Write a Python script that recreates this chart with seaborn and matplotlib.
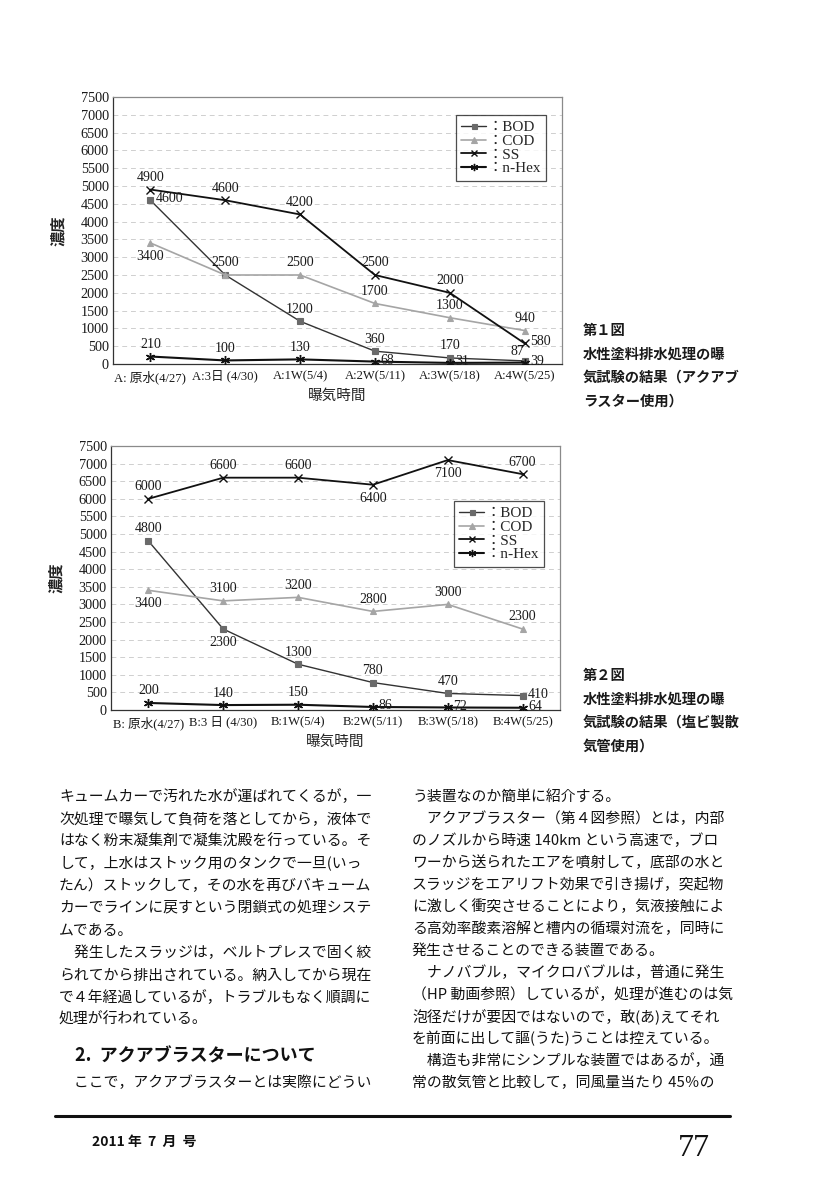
import numpy as np
import pandas as pd
import seaborn as sns
import matplotlib.pyplot as plt

sns.set_theme(style="white")
plt.rcParams['font.family'] = ['Liberation Serif', 'Noto Sans CJK JP', 'DejaVu Sans']
JP = ['Noto Sans CJK JP', 'DejaVu Sans']

# ---- data ----
series = ["BOD", "COD", "SS", "n-Hex"]
cats_a = ["A: 原水(4/27)", "A:3日 (4/30)", "A:1W(5/4)", "A:2W(5/11)", "A:3W(5/18)", "A:4W(5/25)"]
cats_b = ["B: 原水(4/27)", "B:3 日 (4/30)", "B:1W(5/4)", "B:2W(5/11)", "B:3W(5/18)", "B:4W(5/25)"]

a_bod = [4600, 2500, 1200, 360, 170, 87]
a_cod = [3400, 2500, 2500, 1700, 1300, 940]
a_ss = [4900, 4600, 4200, 2500, 2000, 580]
a_hex = [210, 100, 130, 68, 31, 39]

b_bod = [4800, 2300, 1300, 780, 470, 410]
b_cod = [3400, 3100, 3200, 2800, 3000, 2300]
b_ss = [6000, 6600, 6600, 6400, 7100, 6700]
b_hex = [200, 140, 150, 86, 72, 64]

yticks = list(range(0, 7501, 500))

# label placement: a=above, al=above-left, b=below, r=right, None=hidden
place_a = {("BOD", 0): "r", ("BOD", 1): None, ("BOD", 5): "al", ("COD", 0): "b", ("SS", 5): "r",
           ("n-Hex", 3): "r", ("n-Hex", 4): "r", ("n-Hex", 5): "r"}
place_b = {("SS", 3): "b", ("SS", 4): "b", ("BOD", 1): "b", ("BOD", 5): "r",
           ("COD", 0): "b", ("n-Hex", 3): "r", ("n-Hex", 4): "r", ("n-Hex", 5): "r"}
offsets = {"a": ((0, 4), "center", "bottom"), "al": ((-5, 2), "center", "bottom"),
           "b": ((0, -5), "center", "top"), "r": ((4, 1), "left", "center")}

styles = {
    "BOD": dict(color="#333333", lw=1.0, marker="s", ms=4.5, mfc="#6a6a6a", mec="#6a6a6a"),
    "COD": dict(color="#a5a5a5", lw=1.2, marker="^", ms=5, mfc="#a5a5a5", mec="#a5a5a5"),
    "SS": dict(color="#111111", lw=1.3, marker="x", ms=5.5, mfc="none", mec="#111111", mew=1.0),
    "n-Hex": dict(color="#111111", lw=1.5, marker=(6, 2, 0), ms=6.5, mfc="none", mec="#111111", mew=1.0),
}


def draw_chart(ax, cats, values, place, legend_y):
    x = np.arange(len(cats))
    for ax_y in yticks[1:]:
        ax.axhline(ax_y, color="#cfcfcf", lw=0.7, ls=(0, (5, 4)), zorder=0)
    for name, vals in zip(series, values):
        df = pd.DataFrame({"x": x, "y": vals})
        st = styles[name]
        sns.lineplot(data=df, x="x", y="y", ax=ax, color=st["color"], lw=st["lw"],
                     marker=st["marker"], markersize=st["ms"], markerfacecolor=st["mfc"],
                     markeredgecolor=st["mec"], markeredgewidth=st.get("mew", 0.8),
                     label="：" + name, zorder=3)
        for i, v in enumerate(vals):
            p = place.get((name, i), "a")
            if p is None:
                continue
            off, ha, va = offsets[p]
            ax.annotate(str(v), (i, v), xytext=off, textcoords="offset points",
                        ha=ha, va=va, fontsize=10, color="#1a1a1a", zorder=4)
    ax.set_xlim(-0.5, len(cats) - 0.5)
    ax.set_ylim(0, 7500)
    ax.set_xticks(x)
    ax.set_xticklabels(cats, fontsize=9.1)
    ax.set_yticks(yticks)
    ax.set_yticklabels([str(t) for t in yticks], fontsize=10.3)
    ax.tick_params(axis="x", length=0, pad=4.5, colors="#1a1a1a")
    ax.tick_params(axis="y", length=0, pad=3, colors="#1a1a1a")
    ax.set_xlabel("曝気時間", fontsize=10.5, family=JP, color="#222")
    ax.set_ylabel("濃度", fontsize=11, family=JP, color="#222", fontweight="bold")
    ax.xaxis.set_label_coords(0.5, -0.095)
    ax.yaxis.set_label_coords(-0.105, 0.5)
    for s in ["left", "bottom"]:
        ax.spines[s].set_color("#333333")
        ax.spines[s].set_linewidth(0.9)
    for s in ["top", "right"]:
        ax.spines[s].set_color("#8a8a8a")
        ax.spines[s].set_linewidth(0.9)
    leg = ax.legend(loc="upper right", bbox_to_anchor=(0.982, legend_y), fontsize=11,
                    frameon=True, fancybox=False, edgecolor="#222222", handlelength=1.6,
                    handletextpad=0.1, labelspacing=0.0, borderpad=0.35, markerscale=0.8)
    leg.get_frame().set_linewidth(0.9)


fig = plt.figure(figsize=(8.25, 12), dpi=100)
fig.patch.set_facecolor("white")

ax1 = fig.add_axes([113 / 825, 1 - 364 / 1200, 449 / 825, 267 / 1200])
draw_chart(ax1, cats_a, [a_bod, a_cod, a_ss, a_hex], place_a, 0.96)

ax2 = fig.add_axes([111 / 825, 1 - 710 / 1200, 449 / 825, 264 / 1200])
draw_chart(ax2, cats_b, [b_bod, b_cod, b_ss, b_hex], place_b, 0.82)

# ---- captions ----
cap1 = ["第１図", "水性塗料排水処理の曝", "気試験の結果（アクアブ", "ラスター使用）"]
cap2 = ["第２図", "水性塗料排水処理の曝", "気試験の結果（塩ビ製散", "気管使用）"]
for lines, y0 in [(cap1, 331), (cap2, 676)]:
    for k, t in enumerate(lines):
        fig.text(583 / 825, 1 - (y0 + k * 23.5) / 1200, t, fontsize=10.3, family=JP,
                 fontweight="bold", va="center", ha="left", color="#1a1a1a")

# ---- body text ----
left_col = [
    "キュームカーで汚れた水が運ばれてくるが，一",
    "次処理で曝気して負荷を落としてから，液体で",
    "はなく粉末凝集剤で凝集沈殿を行っている。そ",
    "して，上水はストック用のタンクで一旦(いっ",
    "たん）ストックして，その水を再びバキューム",
    "カーでラインに戻すという閉鎖式の処理システ",
    "ムである。",
    "　発生したスラッジは，ベルトプレスで固く絞",
    "られてから排出されている。納入してから現在",
    "で４年経過しているが，トラブルもなく順調に",
    "処理が行われている。",
]
right_col = [
    "う装置なのか簡単に紹介する。",
    "　アクアブラスター（第４図参照）とは，内部",
    "のノズルから時速 140km という高速で，ブロ",
    "ワーから送られたエアを噴射して，底部の水と",
    "スラッジをエアリフト効果で引き揚げ，突起物",
    "に激しく衝突させることにより，気液接触によ",
    "る高効率酸素溶解と槽内の循環対流を，同時に",
    "発生させることのできる装置である。",
    "　ナノバブル，マイクロバブルは，普通に発生",
    "（HP 動画参照）しているが，処理が進むのは気",
    "泡径だけが要因ではないので，敢(あ)えてそれ",
    "を前面に出して謳(うた)うことは控えている。",
    "　構造も非常にシンプルな装置ではあるが，通",
    "常の散気管と比較して，同風量当たり 45％の",
]
for k, t in enumerate(left_col):
    fig.text(59 / 825, 1 - (797 + k * 22.3) / 1200, t, fontsize=10.7, family=JP,
             va="center", ha="left", color="#111")
fig.text(75 / 825, 1 - 1056 / 1200, "2.  アクアブラスターについて", fontsize=13,
         family=JP, fontweight="bold", va="center", ha="left", color="#111")
fig.text(59 / 825, 1 - 1083 / 1200, "　ここで，アクアブラスターとは実際にどうい",
         fontsize=10.7, family=JP, va="center", ha="left", color="#111")
for k, t in enumerate(right_col):
    fig.text(412 / 825, 1 - (797 + k * 22.0) / 1200, t, fontsize=10.7, family=JP,
             va="center", ha="left", color="#111")

# ---- footer ----
fig.add_artist(plt.Line2D([55 / 825, 730 / 825], [1 - 1116 / 1200] * 2,
                          color="#111", lw=2.2, transform=fig.transFigure))
fig.text(92 / 825, 1 - 1142 / 1200, "2011 年  7  月  号", fontsize=10, fontweight="bold",
         family=JP, va="center", ha="left", color="#111")
fig.text(694 / 825, 1 - 1149 / 1200, "77", fontsize=23,
         family=['Liberation Serif'], va="center", ha="center", color="#111")

fig.savefig("out.png", dpi=100, facecolor="white")
